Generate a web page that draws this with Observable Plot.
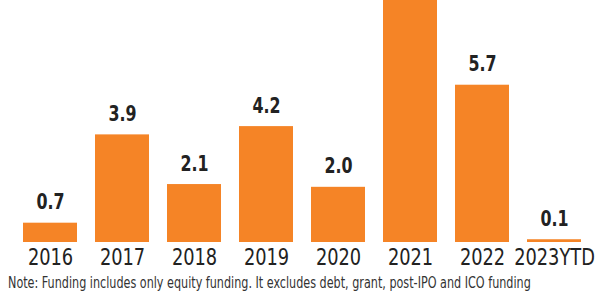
<!DOCTYPE html>
<html>
<head>
<meta charset="utf-8">
<script src="https://cdn.jsdelivr.net/npm/d3@7"></script>
<script src="https://cdn.jsdelivr.net/npm/@observablehq/plot@0.6"></script>
<style>
  html, body { margin: 0; padding: 0; background: #fff; overflow: hidden; }
  #chart svg { display: block; }
  .note { font-family: "DejaVu Sans Condensed", sans-serif; font-size: 15px; color: #333; margin: 2px 0 0 8px; white-space: nowrap; line-height: 15px; transform: scaleX(0.83); transform-origin: left top; }
</style>
</head>
<body>
<div id="chart"></div>
<script>
const years = ["2016", "2017", "2018", "2019", "2020", "2021", "2022", "2023YTD"];
const funding = [0.7, 3.9, 2.1, 4.2, 2.0, 10.2, 5.7, 0.1];
const shownLabels = ["0.7", "3.9", "2.1", "4.2", "2.0", "", "5.7", "0.1"];
const noteText = "Note: Funding includes only equity funding. It excludes debt, grant, post-IPO and ICO funding";

const data = years.map((y, i) => ({year: y, value: funding[i], label: shownLabels[i]}));
const font = "'DejaVu Sans Condensed', sans-serif";

const plot = Plot.plot({
  width: 595,
  height: 274,
  marginTop: 0,
  marginLeft: 11,
  marginRight: 1,
  marginBottom: 32,
  style: {fontFamily: font, background: "#fff"},
  x: {domain: years, paddingInner: 0.245, paddingOuter: 0.1225, label: null},
  y: {domain: [0, 8.77], axis: null},
  marks: [
    Plot.barY(data, {x: "year", y: "value", fill: "#f58426", clip: true}),
    Plot.text(data.filter(d => d.label), {x: "year", y: "value", text: "label", lineAnchor: "bottom", dy: -14, fontSize: 22, fontWeight: "bold", fill: "#222", className: "vlab"}),
    Plot.axisX({tickSize: 0, tickPadding: 6, fontSize: 23, color: "#222", label: null, className: "xax"})
  ]
});
// horizontally condense glyphs to mimic the narrow typeface of the reference
plot.querySelectorAll(".vlab text").forEach(t => {
  const tr = t.getAttribute("transform") || "";
  t.setAttribute("transform", tr + " scale(0.8,1)");
});
plot.querySelectorAll(".xax text").forEach(t => {
  const tr = t.getAttribute("transform") || "";
  t.setAttribute("transform", tr + " scale(0.86,1)");
});
document.getElementById("chart").appendChild(plot);
const note = document.createElement("div");
note.className = "note";
note.textContent = noteText;
document.body.appendChild(note);
</script>
</body>
</html>
